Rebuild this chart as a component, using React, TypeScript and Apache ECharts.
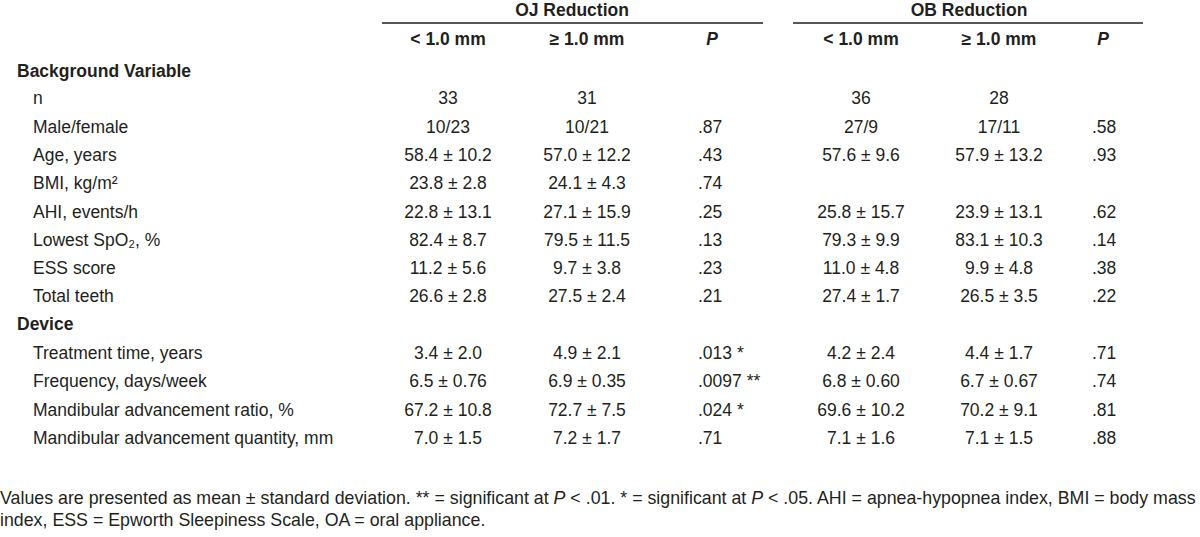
import React, { useEffect, useRef } from "react";
import * as echarts from "echarts";

const groupTitles = ["OJ Reduction", "OB Reduction"];
const subHeaders = ["< 1.0 mm", "≥ 1.0 mm", "P"];
const sections = ["Background Variable", "Device"];
const rowLabels = [
  "n", "Male/female", "Age, years", "BMI, kg/m²", "AHI, events/h", "Lowest SpO₂, %",
  "ESS score", "Total teeth",
  "Treatment time, years", "Frequency, days/week", "Mandibular advancement ratio, %", "Mandibular advancement quantity, mm",
];
const ojLt = ["33", "10/23", "58.4 ± 10.2", "23.8 ± 2.8", "22.8 ± 13.1", "82.4 ± 8.7", "11.2 ± 5.6", "26.6 ± 2.8", "3.4 ± 2.0", "6.5 ± 0.76", "67.2 ± 10.8", "7.0 ± 1.5"];
const ojGe = ["31", "10/21", "57.0 ± 12.2", "24.1 ± 4.3", "27.1 ± 15.9", "79.5 ± 11.5", "9.7 ± 3.8", "27.5 ± 2.4", "4.9 ± 2.1", "6.9 ± 0.35", "72.7 ± 7.5", "7.2 ± 1.7"];
const ojP = ["", ".87", ".43", ".74", ".25", ".13", ".23", ".21", ".013 *", ".0097 **", ".024 *", ".71"];
const obLt = ["36", "27/9", "57.6 ± 9.6", "", "25.8 ± 15.7", "79.3 ± 9.9", "11.0 ± 4.8", "27.4 ± 1.7", "4.2 ± 2.4", "6.8 ± 0.60", "69.6 ± 10.2", "7.1 ± 1.6"];
const obGe = ["28", "17/11", "57.9 ± 13.2", "", "23.9 ± 13.1", "83.1 ± 10.3", "9.9 ± 4.8", "26.5 ± 3.5", "4.4 ± 1.7", "6.7 ± 0.67", "70.2 ± 9.1", "7.1 ± 1.5"];
const obP = ["", ".58", ".93", "", ".62", ".14", ".38", ".22", ".71", ".74", ".81", ".88"];

const FONT = '"Liberation Sans", Arial, sans-serif';
const COLOR = "#231f20";
const FS = 17.5;
const FN_FS = 17.8;

export default function App() {
  const ref = useRef<HTMLDivElement>(null);
  useEffect(() => {
    const chart = echarts.init(ref.current!, null, { renderer: "svg" });
    const els: any[] = [];
    const txt = (x: number, y: number, text: string, align = "left", bold = false, italic = false, fs = FS) => {
      els.push({
        type: "text", x, y,
        style: {
          text, x: 0, y: 0, align, verticalAlign: "middle",
          font: `${italic ? "italic " : ""}${bold ? "bold " : ""}${fs}px ${FONT}`,
          fill: COLOR,
        },
      });
    };
    const groups = [
      { title: 0, cx: 572, x1: 382, x2: 763, cols: [448, 587], pHead: 712 },
      { title: 1, cx: 969, x1: 793, x2: 1143, cols: [861, 999], pHead: 1103 },
    ];
    groups.forEach((g) => {
      txt(g.cx, 10, groupTitles[g.title], "center", true);
      els.push({ type: "line", shape: { x1: g.x1, y1: 23, x2: g.x2, y2: 23 }, style: { stroke: "#555", lineWidth: 2 } });
      txt(g.cols[0], 39, subHeaders[0], "center", true);
      txt(g.cols[1], 39, subHeaders[1], "center", true);
      txt(g.pHead, 39, subHeaders[2], "center", true, true);
    });
    const sectionY = [71, 324];
    txt(17, sectionY[0], sections[0], "left", true);
    txt(17, sectionY[1], sections[1], "left", true);
    const rowY = [98, 127, 155, 183, 212, 240, 268, 296, 353, 381, 410, 438];
    const cols = [ojLt, ojGe, ojP, obLt, obGe, obP];
    const colX = [448, 587, 698, 861, 999, 1092];
    const colAlign = ["center", "center", "left", "center", "center", "left"];
    rowLabels.forEach((lab, i) => {
      const y = rowY[i];
      txt(33, y, lab, "left");
      cols.forEach((c, j) => {
        if (c[i]) txt(colX[j], y, c[i], colAlign[j]);
      });
    });
    const fnStyle = { font: `${FN_FS}px ${FONT}`, fill: COLOR };
    els.push({
      type: "text", x: 0, y: 498,
      style: {
        text: "Values are presented as mean ± standard deviation. ** = significant at {i|P} < .01. * = significant at {i|P} < .05. AHI = apnea-hypopnea index, BMI = body mass",
        verticalAlign: "middle", ...fnStyle,
        rich: { i: { fontStyle: "italic", fontSize: FN_FS, fontFamily: FONT, fill: COLOR } },
      },
    });
    els.push({
      type: "text", x: 0, y: 520,
      style: { text: "index, ESS = Epworth Sleepiness Scale, OA = oral appliance.", verticalAlign: "middle", ...fnStyle },
    });
    chart.setOption({ animation: false, backgroundColor: "#fff", graphic: { elements: els } });
    return () => chart.dispose();
  }, []);
  return <div ref={ref} style={{ position: "fixed", left: 0, top: 0, width: 1200, height: 537 }} />;
}
